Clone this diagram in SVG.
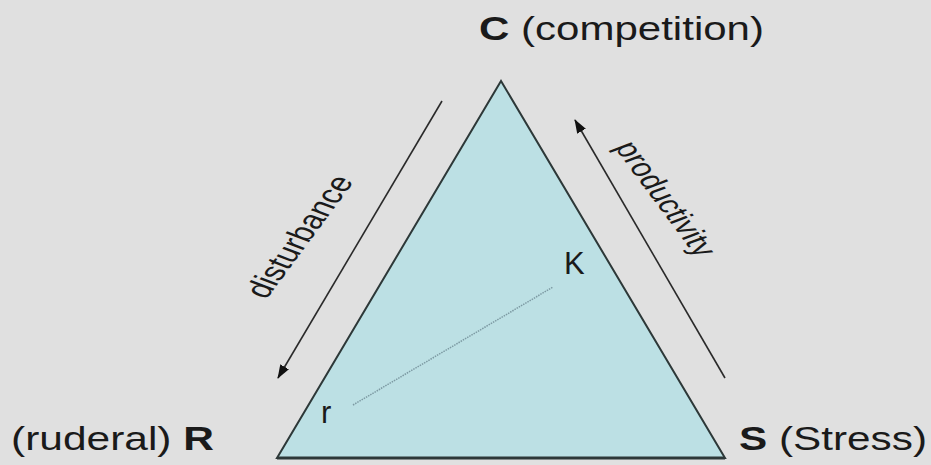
<svg xmlns="http://www.w3.org/2000/svg" width="931" height="465" viewBox="0 0 931 465">
  <defs>
    <marker id="ah" markerUnits="userSpaceOnUse" markerWidth="16" markerHeight="12" refX="13" refY="5" orient="auto">
      <path d="M0,0 L14,5 L0,10 Z" fill="#111"/>
    </marker>
    <style>
      .lbl { font-family: "Liberation Sans", Arial, sans-serif; fill: #1a1a1a; }
      .b { font-weight: bold; }
      .arrow { stroke: #2a2a2a; stroke-width: 1.6; fill: none; marker-end: url(#ah); }
    </style>
  </defs>
  <rect width="931" height="465" fill="#e0e0e0"/>

  <g id="triangle">
    <polygon points="501,81 277,458 725,458" fill="#bce0e4" stroke="#2d3838" stroke-width="2" stroke-linejoin="miter"/>
    <line x1="277" y1="458" x2="725" y2="458" stroke="#2d3838" stroke-width="3"/>
  </g>

  <g id="connectors">
    <line class="arrow" x1="442" y1="101" x2="278" y2="378"/>
    <line class="arrow" x1="725" y1="378" x2="575" y2="120"/>
    <line id="rK" x1="353" y1="405" x2="553" y2="287" stroke="#7d9aa3" stroke-width="1.5" stroke-dasharray="1.5 1"/>
  </g>

  <g id="node-C">
    <text class="lbl" x="479" y="40" font-size="33" textLength="285" lengthAdjust="spacingAndGlyphs"><tspan class="b">C</tspan> (competition)</text>
  </g>
  <g id="node-R">
    <text class="lbl" x="11" y="450" font-size="33" textLength="203" lengthAdjust="spacingAndGlyphs">(ruderal) <tspan class="b">R</tspan></text>
  </g>
  <g id="node-S">
    <text class="lbl" x="739" y="450" font-size="33" textLength="188" lengthAdjust="spacingAndGlyphs"><tspan class="b">S</tspan> (Stress)</text>
  </g>
  <g id="node-K">
    <text class="lbl" x="564" y="274" font-size="31" fill="#1a2a2c">K</text>
  </g>
  <g id="node-r">
    <text class="lbl" x="321" y="423" font-size="31" fill="#1a2a2c">r</text>
  </g>
  <g id="label-disturbance">
    <text class="lbl" font-size="26" transform="translate(266,300) scale(1.4,1) rotate(-62)">disturbance</text>
  </g>
  <g id="label-productivity">
    <text class="lbl" font-size="25" transform="translate(614,147) scale(1.4,1) rotate(62)">productivity</text>
  </g>
</svg>
